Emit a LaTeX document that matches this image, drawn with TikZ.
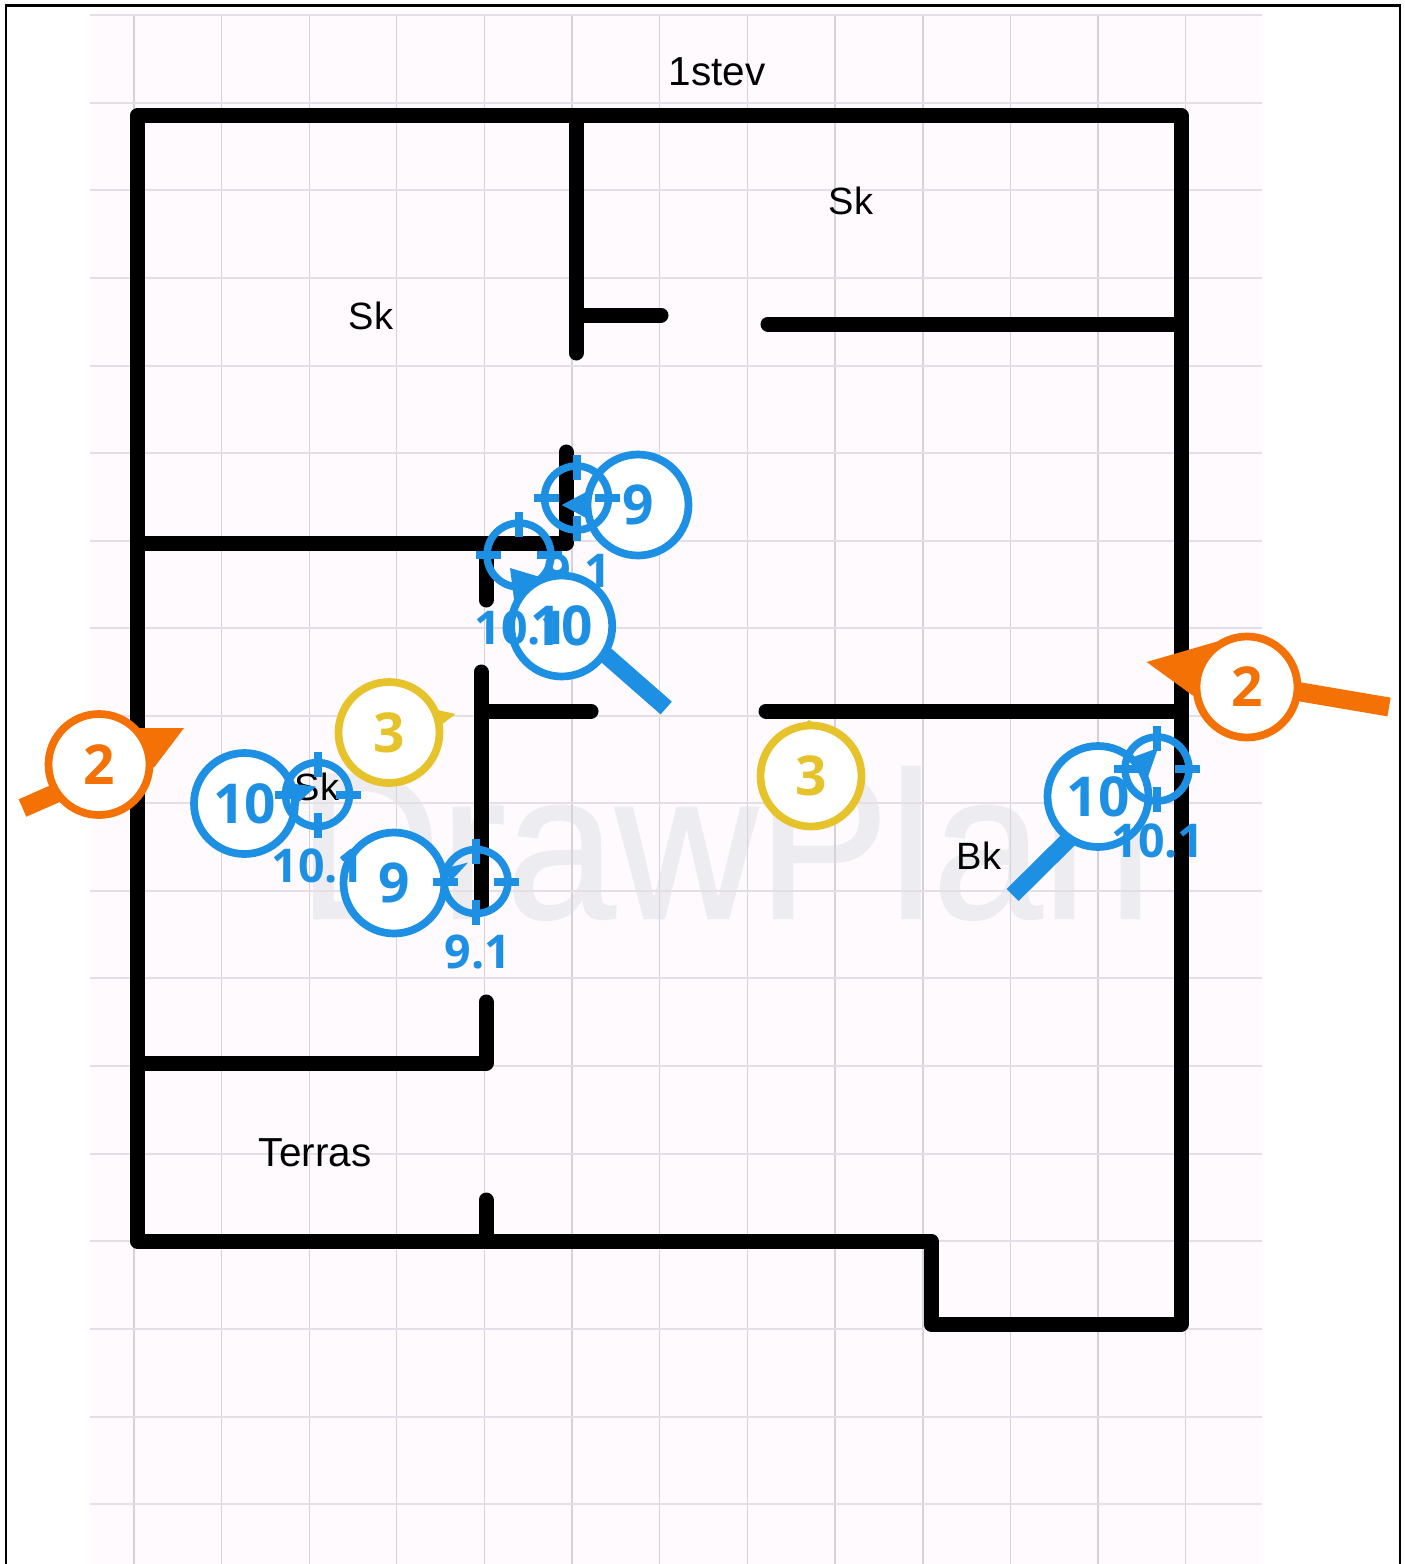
\documentclass[tikz,border=0pt]{standalone}
\usepackage{fontspec}
\usepackage{graphicx}
\setmainfont{Liberation Sans}
\newfontfamily\markfont{Open Sans}
\newfontfamily\wmfont[FakeBold=1]{Liberation Sans}
\definecolor{pageTint}{HTML}{FEFAFE}
\definecolor{gridV}{HTML}{D9D1DA}
\definecolor{gridH}{HTML}{E5DEE6}
\definecolor{markBlue}{HTML}{1E90E4}
\definecolor{markOrange}{HTML}{F37105}
\definecolor{markYellow}{HTML}{E6C22B}
\definecolor{waterMark}{HTML}{EDECF0}
\tikzset{
  wall/.style={line width=15pt,line cap=round,line join=round,black},
  roomlabel/.style={font=\fontsize{38}{40}\selectfont,text=black,inner sep=0pt},
  widelabel/.style={roomlabel,font=\fontsize{40.5}{42}\selectfont},
  badge/.style={circle,draw=#1,fill=white,text=#1,line width=7.7pt,minimum size=101pt,inner sep=0pt,outer sep=0pt,font=\markfont\bfseries\fontsize{55}{58}\selectfont},
  target/.style={circle,draw=markBlue,line width=7.5pt,minimum size=64pt,inner sep=0pt,outer sep=0pt},
  tick/.style={draw=markBlue,line width=8pt},
  tail/.style={draw=#1,line width=19pt},
  pointer/.style={fill=#1},
  sublabel/.style={text=markBlue,inner sep=0pt,font=\markfont\bfseries\fontsize{46.5}{49}\selectfont},
}
% crosshair ticks around a named target node
\newcommand{\targetticks}[1]{%
  \draw[tick] ([xshift=-43pt]#1.center) -- ([xshift=-18pt]#1.center);
  \draw[tick] ([xshift=18pt]#1.center) -- ([xshift=43pt]#1.center);
  \draw[tick] ([yshift=43pt]#1.center) -- ([yshift=18pt]#1.center);
  \draw[tick] ([yshift=-18pt]#1.center) -- ([yshift=-43pt]#1.center);
}
\begin{document}
\begin{tikzpicture}[x=1pt,y=-1pt]
\useasboundingbox (0,0) rectangle (1405,1564);
\fill[white] (0,0) rectangle (1405,1564);
% sheet and grid
\fill[pageTint] (90,14) rectangle (1262,1564);
\node[anchor=base,inner sep=0pt,text=waterMark,font=\wmfont\fontsize{197}{200}\selectfont] (watermark) at (725,918) {\scalebox{1}[1.06]{DrawPlan}};
\foreach \gx in {134,221.6,309.2,396.8,484.6,572,659.8,747.6,835,923,1010.4,1098,1185.8}
  \draw[gridV,line width=1.2pt] (\gx,14) -- (\gx,1564);
\foreach \gy in {15,103,190,278,366,453,541,628,716,803,891,978,1066,1154,1241,1329,1417,1504}
  \draw[gridH,line width=1.2pt] (90,\gy) -- (1262,\gy);
% frame
\draw[black,line width=2.5pt] (6,1564) -- (6,5.5) -- (1400,5.5) -- (1400,1564);
% walls
\draw[wall] (137.3,115.5) -- (1181,115.5) -- (1181,1324) -- (931,1324) -- (931,1241) -- (137.3,1241) -- cycle;
\draw[wall] (576,118) -- (576,353);
\draw[wall] (578,315) -- (661,315);
\draw[wall] (768,324) -- (1181,324);
\draw[wall] (566,452) -- (566,543) -- (139,543);
\draw[wall] (486,545) -- (486,600);
\draw[wall] (481,672) -- (481,905);
\draw[wall] (483,711) -- (591,711);
\draw[wall] (766,711) -- (1181,711);
\draw[wall] (486,1002) -- (486,1063) -- (139,1063);
\draw[wall] (486,1200) -- (486,1241);
% room labels
\node[widelabel] (title) at (717,72) {1stev};
\node[roomlabel] (skA) at (371,316) {Sk};
\node[roomlabel] (skB) at (851,201) {Sk};
\node[roomlabel] (skC) at (317,787) {Sk};
\node[roomlabel] (bk) at (979,856) {Bk};
\node[widelabel] (terras) at (315,1153) {Terras};
% orange 2, left
\fill[pointer=markOrange] (184,728) -- (138.5,728) -- (153.7,768) -- cycle;
\node[badge=markOrange] (orangeL) at (99,764.5) {2};
\coordinate (orangeLend) at (22.5,808);
\draw[tail=markOrange] (orangeL.214) -- (orangeLend);
% orange 2, right
\fill[pointer=markOrange] (1146.6,662) -- (1219,641) -- (1195.4,697.4) -- cycle;
\node[badge=markOrange] (orangeR) at (1247,687) {2};
\coordinate (orangeRend) at (1389,707);
\draw[tail=markOrange] (orangeR.-5) -- (orangeRend);
% yellow 3, left and right
\fill[pointer=markYellow] (455.4,714) -- (437.5,710) -- (442.6,724) -- cycle;
\node[badge=markYellow] (yellowL) at (389,732.5) {3};
\fill[pointer=markYellow] (809,720) -- (800,727) -- (820,727) -- cycle;
\node[badge=markYellow] (yellowR) at (811,776) {3};
% blue 10, left
\fill[pointer=markBlue] (316,786.6) -- (287,783) -- (295.6,805) -- cycle;
\node[badge=markBlue] (tenL) at (244.5,803.5) {10};
\node[target] (tenLt) at (317.5,794.5) {};
\targetticks{tenLt}
% blue 9, left
\fill[pointer=markBlue] (468,862.6) -- (442.6,869) -- (451,881) -- cycle;
\node[badge=markBlue] (nineL) at (394,883) {9};
\node[target] (nineLt) at (476,881.5) {};
\targetticks{nineLt}
\node[sublabel] (tenLs) at (318,866) {10.1};
\node[sublabel] (nineLs) at (478,952) {9.1};
% blue 9, top
\fill[pointer=markBlue] (561.7,505) -- (586.7,491.7) -- (590,520) -- cycle;
\node[badge=markBlue] (nineT) at (638,505) {9};
\node[target] (nineTt) at (576.5,498) {};
\targetticks{nineTt}
\node[sublabel] (nineTs) at (578,571) {9.1};
% blue 10, centre
\fill[pointer=markBlue] (510,568) -- (540,577) -- (515,607) -- cycle;
\node[badge=markBlue] (tenC) at (561.7,626) {10};
\coordinate (tenCend) at (666.2,708);
\draw[tail=markBlue,line width=17pt] (tenC.-33) -- (tenCend);
\node[target] (tenCt) at (519,555) {};
\targetticks{tenCt}
\node[sublabel] (tenCs) at (521,628) {10.1};
% blue 10, right
\fill[pointer=markBlue] (1158,748) -- (1134.8,756.4) -- (1148,776.6) -- cycle;
\node[badge=markBlue] (tenR) at (1098,796.5) {10};
\coordinate (tenRend) at (1012.6,895);
\draw[tail=markBlue,line width=17pt] (tenR.-124) -- (tenRend);
\node[target] (tenRt) at (1157,769) {};
\targetticks{tenRt}
\node[sublabel] (tenRs) at (1158,841) {10.1};
\end{tikzpicture}
\end{document}
